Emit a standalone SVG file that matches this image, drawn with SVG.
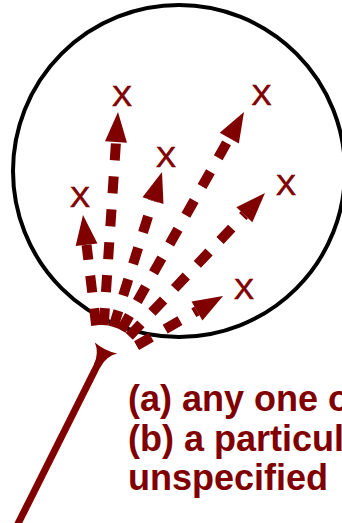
<svg xmlns="http://www.w3.org/2000/svg" width="342" height="523" viewBox="0 0 342 523">
  <style>
    .ring { fill: none; stroke: #000; stroke-width: 4; }
    .dash { fill: none; stroke: #800000; stroke-width: 10; stroke-dasharray: 17 16; stroke-linecap: butt; marker-end: url(#head); }
    .x { font-family: "Liberation Sans", Arial, sans-serif; font-size: 30px; fill: #800000; stroke: #800000; stroke-width: 0.7; text-anchor: middle; }
    .label { font-family: "Liberation Sans", Arial, sans-serif; font-size: 36px; font-weight: bold; fill: #800000; }
    .handle { stroke: #800000; stroke-width: 7; fill: none; }
  </style>
  <defs>
    <marker id="head" markerUnits="userSpaceOnUse" markerWidth="32" markerHeight="24" refX="0" refY="11" orient="auto" overflow="visible">
      <path d="M0,0 L30,11 L0,22 Z" fill="#800000"/>
    </marker>
  </defs>
  <rect width="342" height="523" fill="#fff"/>
  <g id="circle">
    <circle class="ring" cx="179" cy="171" r="166"/>
  </g>
  <g id="handle">
    <g transform="translate(106,348) rotate(26.6)">
      <line class="handle" x1="0" y1="14" x2="0" y2="200"/>
      <path d="M-12.5,0 Q0,3 12.5,0 Q4,7 3.5,20 L-3.5,20 Q-4,7 -12.5,0 Z" fill="#800000"/>
    </g>
  </g>
  <g id="connectors">
    <path class="dash" d="M96.15,325.29 L86.55,244.79"/>
    <path class="dash" d="M103.74,325.09 L116.00,141.93"/>
    <path class="dash" d="M113.30,326.89 L153.00,200.62"/>
    <path class="dash" d="M121.11,330.27 L229.28,138.14"/>
    <path class="dash" d="M129.21,336.25 L244.36,214.77"/>
    <path class="dash" d="M136.56,345.59 L196.98,310.93"/>
  </g>
  <g id="x1"><text class="x" x="80" y="207">X</text></g>
  <g id="x2"><text class="x" x="122" y="106">X</text></g>
  <g id="x3"><text class="x" x="166" y="167">X</text></g>
  <g id="x4"><text class="x" x="261.5" y="105">X</text></g>
  <g id="x5"><text class="x" x="286" y="195">X</text></g>
  <g id="x6"><text class="x" x="244" y="299">X</text></g>
  <g id="caption">
    <text class="label" x="128" y="411">(a) any one o</text>
    <text class="label" x="128" y="451">(b) a particul</text>
    <text class="label" x="128" y="490">unspecified</text>
  </g>
</svg>
